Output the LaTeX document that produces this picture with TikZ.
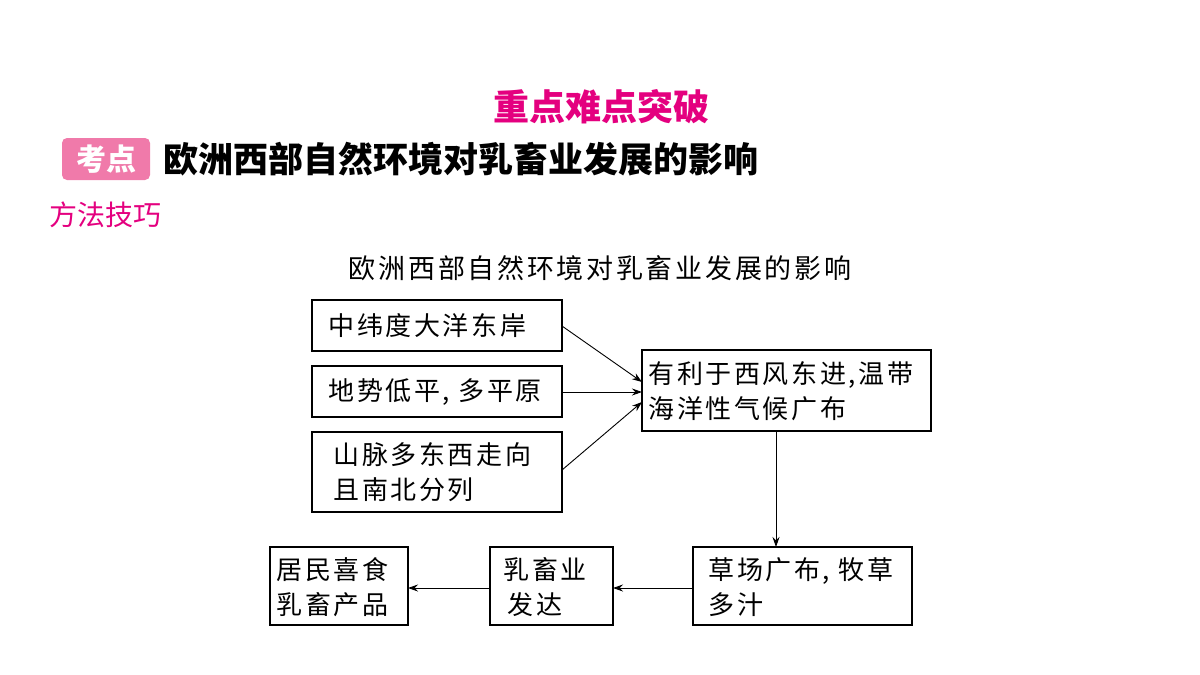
\documentclass[tikz,border=0pt]{standalone}
\usepackage{fontspec}
\newfontfamily\cjk{Noto Sans CJK SC}
\newfontfamily\cjks[LetterSpace=10]{Noto Sans CJK SC}
\usetikzlibrary{arrows.meta}
\definecolor{mag}{HTML}{E4007F}
\definecolor{pk}{HTML}{F07AAA}
\begin{document}
\begin{tikzpicture}[x=1pt,y=-1pt,
 tx/.style={anchor=west,font=\cjks\fontsize{26}{35}\selectfont,align=left},
 ar/.style={-{Stealth[length=10pt,width=7pt]},line width=0.9pt}]
\useasboundingbox (0,0) rectangle (1200,675);
\node[font=\cjk\bfseries\fontsize{36}{36}\selectfont,text=mag] (t) at (601,107) {重点难点突破};
\node[fill=pk,rounded corners=5pt,minimum width=88pt,minimum height=42pt,text=white,font=\cjk\bfseries\fontsize{30}{30}\selectfont] (kd) at (106,159) {考点};
\node[anchor=west,font=\cjk\bfseries\fontsize{35}{35}\selectfont] (h) at (160,159) {欧洲西部自然环境对乳畜业发展的影响};
\node[anchor=west,text=mag,font=\cjk\fontsize{28}{28}\selectfont] (ff) at (46,215) {方法技巧};
\node[font=\cjks\fontsize{27}{27}\selectfont] (dt) at (600,268) {欧洲西部自然环境对乳畜业发展的影响};
\draw[line width=1.2pt] (312,300) rectangle (562,351);
\node[tx] (a) at (325,326) {中纬度大洋东岸};
\draw[line width=1.2pt] (312,366) rectangle (562,417);
\node[tx] (b) at (325,392) {地势低平, 多平原};
\draw[line width=1.2pt] (312,432) rectangle (562,512);
\node[tx] (c) at (330,472) {山脉多东西走向\\且南北分列};
\draw[line width=1.2pt] (642,350) rectangle (931,431);
\node[tx] (d) at (645,391) {有利于西风东进,温带\\海洋性气候广布};
\draw[line width=1.2pt] (693,547) rectangle (912,625);
\node[tx] (e) at (705,587) {草场广布, 牧草\\多汁};
\draw[line width=1.2pt] (490,547) rectangle (613,625);
\node[tx] (f) at (500,587) {乳畜业\\\,发达};
\draw[line width=1.2pt] (270,547) rectangle (408,625);
\node[tx] (g) at (273,587) {居民喜食\\乳畜产品};
\coordinate (a1) at (562,326); \coordinate (d1) at (642,382);
\coordinate (b1) at (562,392); \coordinate (d2) at (642,392);
\coordinate (c1) at (562,470); \coordinate (d3) at (642,402);
\coordinate (d4) at (776,431); \coordinate (e1) at (776,547);
\coordinate (e2) at (693,588); \coordinate (f1) at (613,588);
\coordinate (f2) at (490,588); \coordinate (g1) at (408,588);
\draw[ar] (a1)--(d1); \draw[ar] (b1)--(d2); \draw[ar] (c1)--(d3);
\draw[ar] (d4)--(e1); \draw[ar] (e2)--(f1); \draw[ar] (f2)--(g1);
\end{tikzpicture}
\end{document}
